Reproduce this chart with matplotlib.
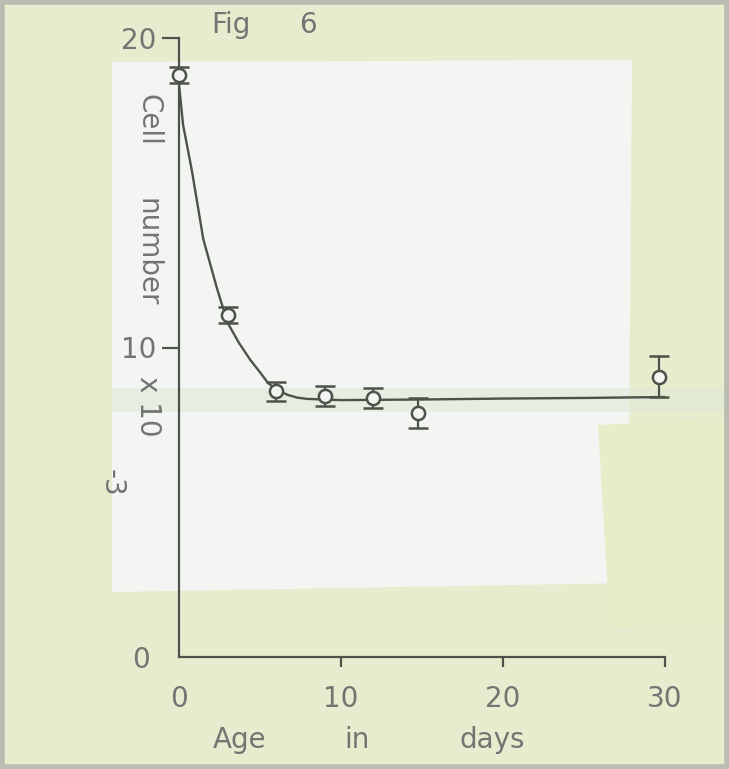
import matplotlib
matplotlib.use("Agg")
import matplotlib.pyplot as plt
from matplotlib.patches import Polygon, Rectangle

W, H = 729, 769

# measured points (age in days, cell number x 10^-3, error bar half-width)
days = [0, 3, 6, 9, 12, 14.75, 29.6]
cells = [18.8, 11.05, 8.58, 8.43, 8.37, 7.88, 9.05]
errs = [0.25, 0.26, 0.32, 0.31, 0.31, 0.48, 0.66]

# hand-drawn curve
curve_days = [0, 0.25, 0.8, 1.5, 2.35, 3.0, 3.7, 4.4, 5.0, 5.5, 6.1, 6.7, 7.3, 7.9, 10, 15, 20, 25, 30]
curve_cells = [18.5, 17.2, 15.7, 13.5, 11.9, 10.8, 10.15, 9.6, 9.2, 8.85, 8.62, 8.47, 8.38, 8.34, 8.3, 8.32, 8.35, 8.37, 8.4]

xticks = [0, 10, 20, 30]
yticks = [0, 10, 20]

INK = "#4d524a"
TXT = "#737573"
PAPER = "#e8ecce"
WHITE = "#f3f5f2"


def px(x, y):
    # pixel coords (top-left origin) -> figure fraction
    return x / W, 1 - y / H


fig = plt.figure(figsize=(W / 100, H / 100), dpi=100, facecolor=PAPER)

# scanned paper: white card pasted on yellowish sheet (kept behind the axes)
fig.patches.append(Polygon([px(112, 62), px(632, 60), px(628, 583), px(112, 592)],
                           closed=True, transform=fig.transFigure,
                           facecolor=WHITE, edgecolor="none", zorder=-10))
fig.patches.append(Polygon([px(598, 425), px(729, 418), px(729, 625), px(610, 628)],
                           closed=True, transform=fig.transFigure,
                           facecolor="#e9ecc9", edgecolor="none", zorder=-9))
x0, y0 = px(112, 412)
fig.patches.append(Rectangle((x0, y0), 1 - x0, 24 / H, transform=fig.transFigure,
                             facecolor="#dfe9d4", edgecolor="none", alpha=0.6, zorder=-8))
fig.patches.append(Rectangle((0.003, 0.003), 0.994, 0.994, transform=fig.transFigure,
                             facecolor="none", edgecolor="#b9bdb2", lw=4, zorder=-7))

l, t = px(179, 38)
r, b = px(665, 657)
ax = fig.add_axes([l, b, r - l, t - b])
ax.patch.set_visible(False)

ax.plot(curve_days, curve_cells, color=INK, lw=1.7, solid_joinstyle="round", zorder=2)
ax.errorbar(days, cells, yerr=errs, fmt="o", ms=9.5, mfc=WHITE, mec=INK, mew=1.8,
            ecolor=INK, elinewidth=1.6, capsize=7.5, capthick=2.4, zorder=3, clip_on=False)

ax.set_xlim(0, 30)
ax.set_ylim(0, 20)
for s in ["top", "right"]:
    ax.spines[s].set_visible(False)
for s in ["left", "bottom"]:
    ax.spines[s].set_color(INK)
    ax.spines[s].set_linewidth(1.6)

ax.set_xticks(xticks)
ax.set_yticks(yticks)
ax.tick_params(axis="x", direction="out", length=7, width=1.6, color=INK,
               labelsize=20, labelcolor=TXT, pad=13)
ax.tick_params(axis="y", direction="out", length=12, width=1.6, color=INK,
               labelsize=20, labelcolor=TXT, pad=4)
ax.xaxis.get_major_ticks()[0].tick1line.set_visible(False)
ax.yaxis.get_major_ticks()[0].tick1line.set_visible(False)
ax.yaxis.get_major_ticks()[0].set_pad(9)

fnt = dict(color=TXT, fontsize=20, ha="center", va="center", transform=fig.transFigure)
fig.text(*px(240, 740), "Age", **fnt)
fig.text(*px(357, 740), "in", **fnt)
fig.text(*px(492, 740), "days", **fnt)
fig.text(*px(231, 25), "Fig", **fnt)
fig.text(*px(308, 25), "6", **fnt)

fig.text(*px(148, 120), "Cell", rotation=-90, **fnt)
fig.text(*px(148, 252), "number", rotation=-90, **fnt)
fig.text(*px(148, 406), "x 10", rotation=-90, **fnt)
fig.text(*px(112, 483), "-3", rotation=-90, **fnt)

fig.savefig("out.png", dpi=100, facecolor=PAPER)
